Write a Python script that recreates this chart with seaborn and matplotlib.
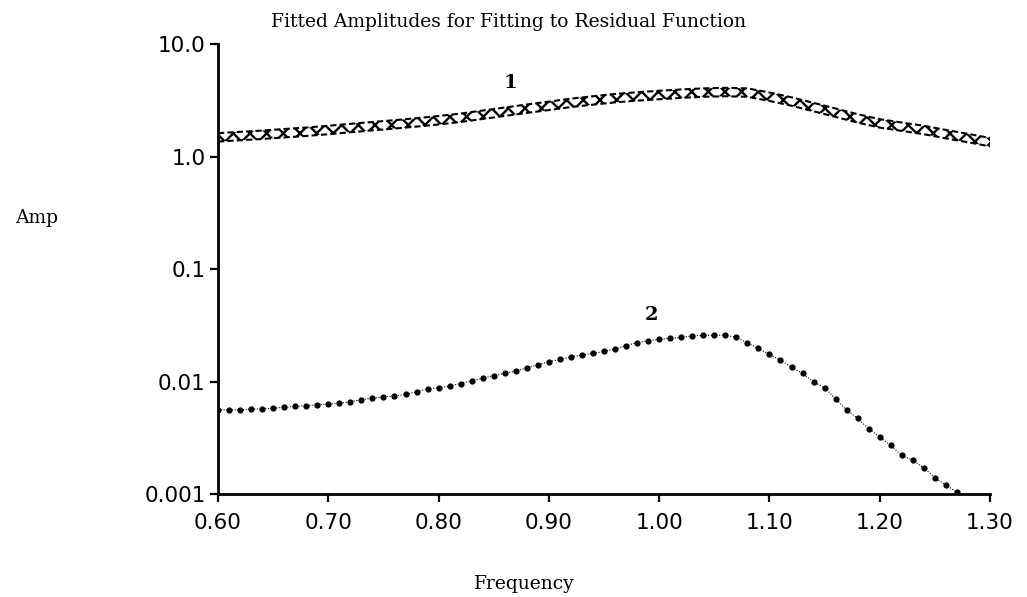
import numpy as np
import pandas as pd
import matplotlib
matplotlib.use('Agg')
from matplotlib import pyplot as plt
from matplotlib.ticker import FixedLocator, NullLocator
import seaborn as sns

# amplitude 1: band centre, read every 0.02
freq1 = [0.60, 0.62, 0.64, 0.66, 0.68, 0.70, 0.72, 0.74, 0.76, 0.78,
         0.80, 0.82, 0.84, 0.86, 0.88, 0.90, 0.92, 0.94, 0.96, 0.98,
         1.00, 1.02, 1.04, 1.06, 1.08, 1.10, 1.12, 1.14, 1.16, 1.18,
         1.20, 1.22, 1.24, 1.26, 1.28, 1.30]
amp1 = [1.48, 1.52, 1.56, 1.61, 1.66, 1.72, 1.79, 1.86, 1.93, 2.01,
        2.10, 2.21, 2.35, 2.50, 2.66, 2.82, 3.00, 3.15, 3.30, 3.42,
        3.52, 3.62, 3.70, 3.74, 3.70, 3.40, 3.08, 2.75, 2.45, 2.18,
        1.97, 1.84, 1.72, 1.58, 1.46, 1.34]
band_factor = 1.09

# amplitude 2: points every 0.01
freq2 = [0.60, 0.61, 0.62, 0.63, 0.64, 0.65, 0.66, 0.67, 0.68, 0.69,
         0.70, 0.71, 0.72, 0.73, 0.74, 0.75, 0.76, 0.77, 0.78, 0.79,
         0.80, 0.81, 0.82, 0.83, 0.84, 0.85, 0.86, 0.87, 0.88, 0.89,
         0.90, 0.91, 0.92, 0.93, 0.94, 0.95, 0.96, 0.97, 0.98, 0.99,
         1.00, 1.01, 1.02, 1.03, 1.04, 1.05, 1.06, 1.07, 1.08, 1.09,
         1.10, 1.11, 1.12, 1.13, 1.14, 1.15, 1.16, 1.17, 1.18, 1.19,
         1.20, 1.21, 1.22, 1.23, 1.24, 1.25, 1.26, 1.27]
amp2 = [0.0056, 0.0056, 0.0056, 0.0057, 0.0057, 0.0058, 0.0059, 0.0060, 0.0061, 0.0062,
        0.0063, 0.0064, 0.0066, 0.0069, 0.0071, 0.0073, 0.0074, 0.0077, 0.0081, 0.0086,
        0.0088, 0.0091, 0.0096, 0.0101, 0.0107, 0.0113, 0.0118, 0.0124, 0.0132, 0.0141,
        0.0150, 0.0157, 0.0165, 0.0172, 0.0178, 0.0185, 0.0195, 0.0208, 0.0222, 0.0230,
        0.0237, 0.0242, 0.0247, 0.0254, 0.0257, 0.0258, 0.0258, 0.0247, 0.0220, 0.0197,
        0.0174, 0.0155, 0.0134, 0.0118, 0.0099, 0.0088, 0.0070, 0.0056, 0.0047, 0.0038,
        0.0032, 0.0027, 0.0022, 0.0020, 0.0017, 0.0014, 0.0012, 0.00104]

yticks = [0.001, 0.01, 0.1, 1.0, 10.0]
ytick_labels = ['0.001', '0.01', '0.1', '1.0', '10.0']
xticks = [0.60, 0.70, 0.80, 0.90, 1.00, 1.10, 1.20, 1.30]
xtick_labels = ['0.60', '0.70', '0.80', '0.90', '1.00', '1.10', '1.20', '1.30']

sns.set_style('ticks')
plt.rcParams['font.family'] = ['DejaVu Sans']
plt.rcParams['hatch.linewidth'] = 1.7
plt.rcParams['text.color'] = 'black'

df1 = pd.DataFrame({'freq': freq1, 'amp': amp1})
df1['hi'] = df1['amp'] * band_factor
df1['lo'] = df1['amp'] / band_factor
df2 = pd.DataFrame({'freq': freq2, 'amp': amp2})

fig = plt.figure(figsize=(10.27, 5.97), dpi=100)
ax = fig.add_axes([0.2123, 0.1725, 0.7517, 0.7538])

ax.fill_between(df1['freq'], df1['lo'], df1['hi'], facecolor='white',
                edgecolor='black', hatch='xx', linewidth=0)
sns.lineplot(data=df1, x='freq', y='hi', ax=ax, color='black', lw=1.5,
             linestyle=(0, (3, 1.5)))
sns.lineplot(data=df1, x='freq', y='lo', ax=ax, color='black', lw=1.5,
             linestyle=(0, (3, 1.5)))

sns.lineplot(data=df2, x='freq', y='amp', ax=ax, color='black', lw=0.8,
             linestyle=(0, (1, 1.5)), marker='o', markersize=4.5,
             markeredgewidth=0)

ax.set_yscale('log')
ax.set_xlim(0.60, 1.30)
ax.set_ylim(0.001, 10.0)
ax.yaxis.set_major_locator(FixedLocator(yticks))
ax.yaxis.set_minor_locator(NullLocator())
ax.set_yticklabels(ytick_labels)
ax.set_xticks(xticks)
ax.set_xticklabels(xtick_labels)
ax.tick_params(axis='both', direction='out', length=6, width=1.6,
               labelsize=15.5, color='black', labelcolor='black')
ax.tick_params(axis='x', pad=8)
ax.tick_params(axis='y', pad=3)
sns.despine(ax=ax)
for s in ('left', 'bottom'):
    ax.spines[s].set_linewidth(2.0)
    ax.spines[s].set_color('black')
ax.set_xlabel('')
ax.set_ylabel('')

serif = ['DejaVu Serif']
fig.text(0.495, 0.963, 'Fitted Amplitudes for Fitting to Residual Function',
         ha='center', va='center', fontsize=13.5, family=serif)
fig.text(0.036, 0.635, 'Amp', ha='center', va='center', fontsize=13.5, family=serif)
fig.text(0.511, 0.022, 'Frequency', ha='center', va='center', fontsize=13.5,
         family=serif)
ax.text(0.865, 4.5, '1', ha='center', va='center', fontsize=14,
        fontweight='bold', family=serif)
ax.text(0.993, 0.039, '2', ha='center', va='center', fontsize=14,
        fontweight='bold', family=serif)

plt.savefig('out.png', dpi=100)
